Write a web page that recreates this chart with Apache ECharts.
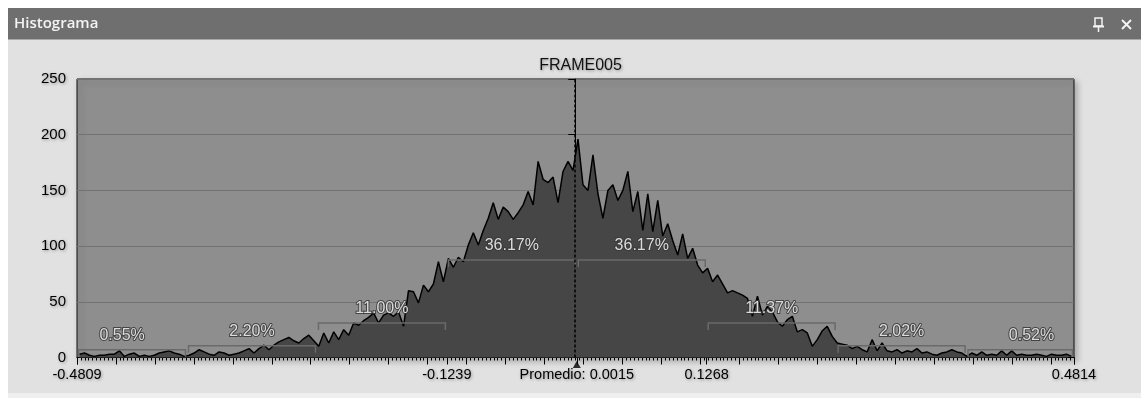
<!DOCTYPE html>
<html><head><meta charset="utf-8">
<style>html,body{margin:0;padding:0;background:#fff;}#c{width:1141px;height:398px;}</style>
<script src="https://cdn.jsdelivr.net/npm/echarts@6/dist/echarts.min.js"></script>
</head><body><div id="c"></div>
<script>
// ---------- data ----------
const windowTitle = 'Histograma';
const chartTitle = 'FRAME005';
const xMin = -0.4809;
const xMax = 0.4814;
const binWidth = 0.0048115;
const counts = [
  3,4,2,1,2,2,3,3,6,1,
  3,4,1,2,1,2,4,5,6,4,
  3,1,2,4,7,5,3,2,5,4,
  2,3,4,6,8,4,8,11,7,11,
  14,16,18,15,13,17,20,15,10,22,
  13,23,16,25,20,31,29,33,36,40,
  31,38,40,37,41,28,60,59,49,65,
  59,66,86,68,89,81,90,86,101,112,
  101,114,125,139,124,135,131,124,130,137,
  149,137,176,160,157,162,139,167,176,168,
  196,155,150,182,147,125,150,155,141,150,
  167,131,149,114,147,113,141,109,120,105,
  92,111,89,98,83,76,80,68,74,66,
  58,60,58,56,53,37,55,38,46,41,
  32,28,34,37,23,25,22,10,16,24,
  28,19,13,12,11,8,10,7,5,16,
  6,13,6,5,7,4,6,5,8,4,
  5,3,2,4,5,7,5,4,1,4,
  2,5,2,3,2,6,2,6,2,3,
  2,2,3,2,1,3,2,2,3,1
];
const meanValue = 0.0015;
const sigma = 0.1254;
const xTickValues = [-0.4809, -0.1239, 0.0015, 0.1268, 0.4814];
const xTickLabels = ['-0.4809', '-0.1239', 'Promedio: 0.0015', '0.1268', '0.4814'];
const bandSigmaFrom = [-4, -3, -2, -1, 0, 1, 2, 3];
const bandHeights = [7, 10.5, 31, 87.5, 87.5, 31, 10.5, 7];
const bandPercents = ['0.55%', '2.20%', '11.00%', '36.17%', '36.17%', '11.37%', '2.02%', '0.52%'];
const yMax = 250;
const yStep = 50;
const minorTickStep = 0.0376;

// ---------- build ----------
const histData = counts.map((c, i) => [xMin + (i + 0.5) * binWidth, c]);
const bandData = bandSigmaFrom.map((k, i) => {
  const lo = meanValue + k * sigma, hi = meanValue + (k + 1) * sigma;
  return [Math.max(lo, xMin), Math.min(hi, xMax), bandHeights[i], (lo + hi) / 2];
});

const chart = echarts.init(document.getElementById('c'), null, {renderer: 'canvas'});
const FONT = '"Liberation Sans", Arial, sans-serif';
const labelShadow = {textShadowColor: 'rgba(0,0,0,0.35)', textShadowBlur: 3, textShadowOffsetX: 1, textShadowOffsetY: 1};

function renderBand(params, api) {
  const lo = api.value(0), hi = api.value(1), h = api.value(2), c = api.value(3);
  const p1 = api.coord([lo, h]), p2 = api.coord([hi, h]);
  const y = p1[1];
  const x1 = p1[0] + 1.5, x2 = p2[0] - 1.5;
  const cx = api.coord([c, h])[0];
  return {
    type: 'group',
    children: [
      {type: 'polyline', shape: {points: [[x1, y + 7], [x1, y], [x2, y], [x2, y + 7]]},
       style: {stroke: '#6a6a6a', lineWidth: 1.5, fill: null}},
      {type: 'text', z2: 5, style: {text: bandPercents[params.dataIndex], x: cx, y: y - 14,
        align: 'center', verticalAlign: 'middle', font: '16px ' + FONT,
        fill: '#dcdcdc', stroke: 'rgba(55,55,55,0.85)', lineWidth: 2}}
    ]
  };
}

chart.setOption({
  animation: false,
  backgroundColor: '#ffffff',
  title: {
    text: chartTitle, left: 575.5, top: 53, textAlign: 'center',
    textStyle: {fontFamily: FONT, fontSize: 16, fontWeight: 'normal', color: '#111', ...labelShadow}
  },
  graphic: [
    {type: 'rect', z: -100, shape: {x: 8, y: 40, width: 1133, height: 353}, style: {fill: '#e1e1e1'}},
    {type: 'rect', z: -100, shape: {x: 8, y: 393, width: 1133, height: 5}, style: {fill: '#efefef'}},
    {type: 'rect', z: -100, shape: {x: 8, y: 8, width: 1133, height: 31}, style: {fill: '#6f6f6f'}},
    {type: 'rect', z: -100, shape: {x: 8, y: 39, width: 1133, height: 1}, style: {fill: '#a9a9a9'}},
    {type: 'text', z: 100, style: {text: windowTitle, x: 14, y: 24, verticalAlign: 'middle',
      font: '600 15px "Open Sans", "Noto Sans", sans-serif', fill: '#f4f4f4'}},
    {type: 'rect', z: 100, shape: {x: 1095, y: 18, width: 7, height: 8}, style: {fill: null, stroke: '#f4f4f4', lineWidth: 1.5}},
    {type: 'line', z: 100, shape: {x1: 1093, y1: 26.5, x2: 1104, y2: 26.5}, style: {stroke: '#f4f4f4', lineWidth: 2}},
    {type: 'line', z: 100, shape: {x1: 1098.5, y1: 27, x2: 1098.5, y2: 32}, style: {stroke: '#f4f4f4', lineWidth: 1.5}},
    {type: 'line', z: 100, shape: {x1: 1122, y1: 20, x2: 1131, y2: 29}, style: {stroke: '#f4f4f4', lineWidth: 2}},
    {type: 'line', z: 100, shape: {x1: 1131, y1: 20, x2: 1122, y2: 29}, style: {stroke: '#f4f4f4', lineWidth: 2}}
  ],
  grid: {
    left: 77, right: 67, top: 79, bottom: 40.5, show: true,
    backgroundColor: '#8e8e8e', borderColor: '#111', borderWidth: 1,
    shadowColor: 'rgba(0,0,0,0.25)', shadowBlur: 6, shadowOffsetX: 3, shadowOffsetY: 3,
    containLabel: false, outerBoundsMode: 'none'
  },
  xAxis: [
    {
      type: 'value', min: xMin, max: xMax, position: 'bottom',
      axisLine: {show: true, onZero: false, lineStyle: {color: '#000', width: 1}},
      axisTick: {show: true, customValues: xTickValues, length: 7, lineStyle: {color: '#000', width: 1}},
      axisLabel: {
        show: true, customValues: xTickValues, margin: 10, showMinLabel: true, showMaxLabel: true,
        fontFamily: FONT, fontSize: 14.5, color: '#000', ...labelShadow,
        formatter: v => {
          let best = 0;
          xTickValues.forEach((t, i) => { if (Math.abs(t - v) < Math.abs(xTickValues[best] - v)) best = i; });
          return xTickLabels[best];
        }
      },
      splitLine: {show: false}
    },
    {
      type: 'value', min: 0, max: xMax - xMin, interval: minorTickStep, position: 'bottom',
      axisLine: {show: false},
      axisLabel: {show: false},
      axisTick: {show: true, length: 7, lineStyle: {color: '#000', width: 1}},
      minorTick: {show: true, splitNumber: 10, length: 3, lineStyle: {color: '#000', width: 1}},
      splitLine: {show: false}
    }
  ],
  yAxis: {
    type: 'value', min: 0, max: yMax, interval: yStep,
    axisLine: {show: true, lineStyle: {color: '#000', width: 1}},
    axisTick: {show: true, length: 7, lineStyle: {color: '#000', width: 1}},
    axisLabel: {margin: 11, fontFamily: FONT, fontSize: 15, color: '#000', ...labelShadow},
    splitLine: {show: true, lineStyle: {color: '#727272', width: 1}}
  },
  series: [
    {
      type: 'line', xAxisIndex: 0, yAxisIndex: 0, data: histData, symbol: 'none', z: 2,
      lineStyle: {color: '#000', width: 1.5},
      areaStyle: {color: '#464646', opacity: 1},
      markLine: {
        silent: true, symbol: 'none', label: {show: false},
        lineStyle: {color: '#000', type: [3, 2], width: 1.5},
        data: [{xAxis: meanValue}]
      }
    },
    {
      type: 'custom', xAxisIndex: 0, yAxisIndex: 0, z: 4, data: bandData, renderItem: renderBand, clip: false, silent: true
    },
    {
      type: 'scatter', xAxisIndex: 0, yAxisIndex: 0, z: 6, data: [[meanValue, 0]], symbol: 'triangle',
      symbolSize: [8, 7], symbolOffset: [0, 7], itemStyle: {color: '#000'}, clip: false, silent: true
    }
  ]
});
</script>
</body></html>
